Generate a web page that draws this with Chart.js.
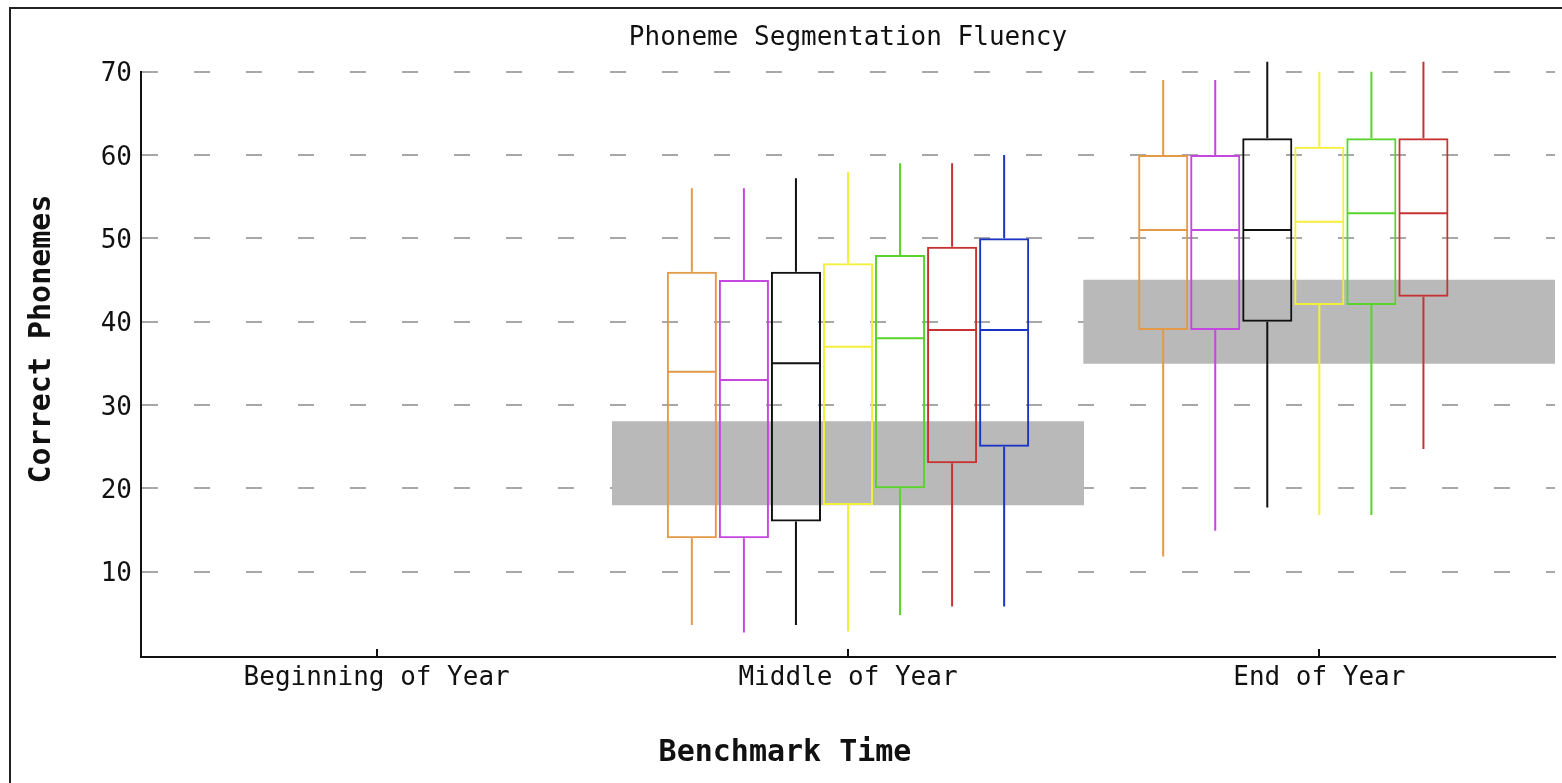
<!DOCTYPE html>
<html>
<head>
<meta charset="utf-8">
<title>Phoneme Segmentation Fluency</title>
<script src="https://cdn.jsdelivr.net/npm/chart.js@4.4.1/dist/chart.umd.min.js"></script>
<style>
    html, body { margin: 0; padding: 0; background: #fff; overflow: hidden; }
    #wrap { position: relative; width: 1562px; height: 783px; }
    #frame { position: absolute; left: 9px; top: 7px; width: 1600px; height: 800px; border: 2px solid #222; box-sizing: border-box; }
    canvas { position: absolute; left: 0; top: 0; }
</style>
</head>
<body>
<div id="wrap">
    <div id="frame"></div>
    <canvas id="psfChart" width="1562" height="783"></canvas>
</div>
<script>
const categories = ['Beginning of Year', 'Middle of Year', 'End of Year'];
const yTicks = [10, 20, 30, 40, 50, 60, 70];

// benchmark goal band per period: [low, high]
const goalBand = [null, [18, 28], [35, 45]];

// one box per group and period: [min, q1, median, q3, max]
const orangeBoxes  = [null, [3.6, 14, 34, 46, 56],   [11.8, 39, 51, 60, 69]];
const magentaBoxes = [null, [2.7, 14, 33, 45, 56],   [14.9, 39, 51, 60, 69]];
const blackBoxes   = [null, [3.6, 16, 35, 46, 57.2], [17.7, 40, 51, 62, 71.2]];
const yellowBoxes  = [null, [2.8, 18, 37, 47, 58],   [16.8, 42, 52, 61, 70]];
const greenBoxes   = [null, [4.8, 20, 38, 48, 59],   [16.8, 42, 53, 62, 70]];
const redBoxes     = [null, [5.8, 23, 39, 49, 59],   [24.7, 43, 53, 62, 71.2]];
const blueBoxes    = [null, [5.8, 25, 39, 50, 60],   null];

const groups = [
    { stats: orangeBoxes,  color: '#e29a48' },
    { stats: magentaBoxes, color: '#c646e0' },
    { stats: blackBoxes,   color: '#111111' },
    { stats: yellowBoxes,  color: '#f4f03a' },
    { stats: greenBoxes,   color: '#58d42c' },
    { stats: redBoxes,     color: '#c83232' },
    { stats: blueBoxes,    color: '#1c34c4' }
];

const monoFont = '"DejaVu Sans Mono", "Liberation Mono", monospace';

// medians, whiskers, x tick marks and axis titles
const boxPlotLines = {
    id: 'boxPlotLines',
    afterDatasetsDraw(chart) {
        const ctx = chart.ctx;
        const yScale = chart.scales.y;
        chart.data.datasets.forEach((ds, di) => {
            if (!ds.stats) return;
            const meta = chart.getDatasetMeta(di);
            meta.data.forEach((bar, i) => {
                const s = ds.stats[i];
                if (!s) return;
                const [min, q1, med, q3, max] = s;
                const half = bar.width / 2;
                ctx.save();
                ctx.strokeStyle = ds.borderColor;
                ctx.lineWidth = 2;
                ctx.beginPath();
                const yMed = yScale.getPixelForValue(med);
                ctx.moveTo(bar.x - half + 1, yMed);
                ctx.lineTo(bar.x + half - 1, yMed);
                ctx.moveTo(bar.x, yScale.getPixelForValue(q3));
                ctx.lineTo(bar.x, yScale.getPixelForValue(max));
                ctx.moveTo(bar.x, yScale.getPixelForValue(q1));
                ctx.lineTo(bar.x, yScale.getPixelForValue(min));
                ctx.stroke();
                ctx.restore();
            });
        });
    },
    afterDraw(chart) {
        const ctx = chart.ctx;
        const xScale = chart.scales.x;
        const bottom = chart.chartArea.bottom;
        ctx.save();
        ctx.strokeStyle = '#111';
        ctx.lineWidth = 2;
        ctx.beginPath();
        categories.forEach((c, i) => {
            const x = Math.round(xScale.getPixelForValue(i));
            ctx.moveTo(x, bottom);
            ctx.lineTo(x, bottom - 8);
        });
        ctx.stroke();

        ctx.fillStyle = '#111';
        ctx.font = 'bold 30px ' + monoFont;
        ctx.textAlign = 'center';
        ctx.textBaseline = 'middle';
        ctx.fillText('Benchmark Time', 785, 753);
        ctx.translate(42, 339);
        ctx.rotate(-Math.PI / 2);
        ctx.fillText('Correct Phonemes', 0, 0);
        ctx.restore();
    }
};

const datasets = groups.map(g => ({
    type: 'bar',
    data: g.stats.map(s => s ? [s[1], s[3]] : null),
    stats: g.stats,
    borderColor: g.color,
    backgroundColor: 'rgba(0,0,0,0)',
    borderWidth: 2,
    borderSkipped: false,
    categoryPercentage: 0.773,
    barPercentage: 0.962,
    order: 1
}));

datasets.push({
    type: 'bar',
    data: goalBand,
    grouped: false,
    backgroundColor: '#b9b9b9',
    borderWidth: 0,
    categoryPercentage: 1,
    barPercentage: 1,
    order: 5
});

new Chart(document.getElementById('psfChart'), {
    type: 'bar',
    data: { labels: categories, datasets: datasets },
    plugins: [boxPlotLines],
    options: {
        responsive: false,
        animation: false,
        events: [],
        layout: { padding: { left: 0, right: 7, top: 0, bottom: 0 } },
        plugins: {
            legend: { display: false },
            tooltip: { enabled: false },
            title: {
                display: true,
                fullSize: false,
                text: 'Phoneme Segmentation Fluency',
                color: '#111',
                font: { family: monoFont, size: 26, weight: 'normal' },
                padding: { top: 23, bottom: 17.5 }
            }
        },
        scales: {
            x: {
                type: 'category',
                offset: true,
                grid: { display: false },
                border: { display: true, color: '#111', width: 2 },
                ticks: { color: '#111', font: { family: monoFont, size: 26 }, padding: -2 },
                afterFit: (scale) => { scale.height = 126; }
            },
            y: {
                min: -0.25,
                max: 70,
                afterBuildTicks: (scale) => { scale.ticks = yTicks.map(v => ({ value: v })); },
                grid: { color: '#a8a8a8', lineWidth: 2, drawTicks: false },
                border: { display: true, color: '#111', width: 2, dash: [16, 36] },
                ticks: { color: '#111', font: { family: monoFont, size: 26 }, padding: 9, labelOffset: 3 },
                afterFit: (scale) => { scale.width = 141; }
            }
        }
    }
});
</script>
</body>
</html>
